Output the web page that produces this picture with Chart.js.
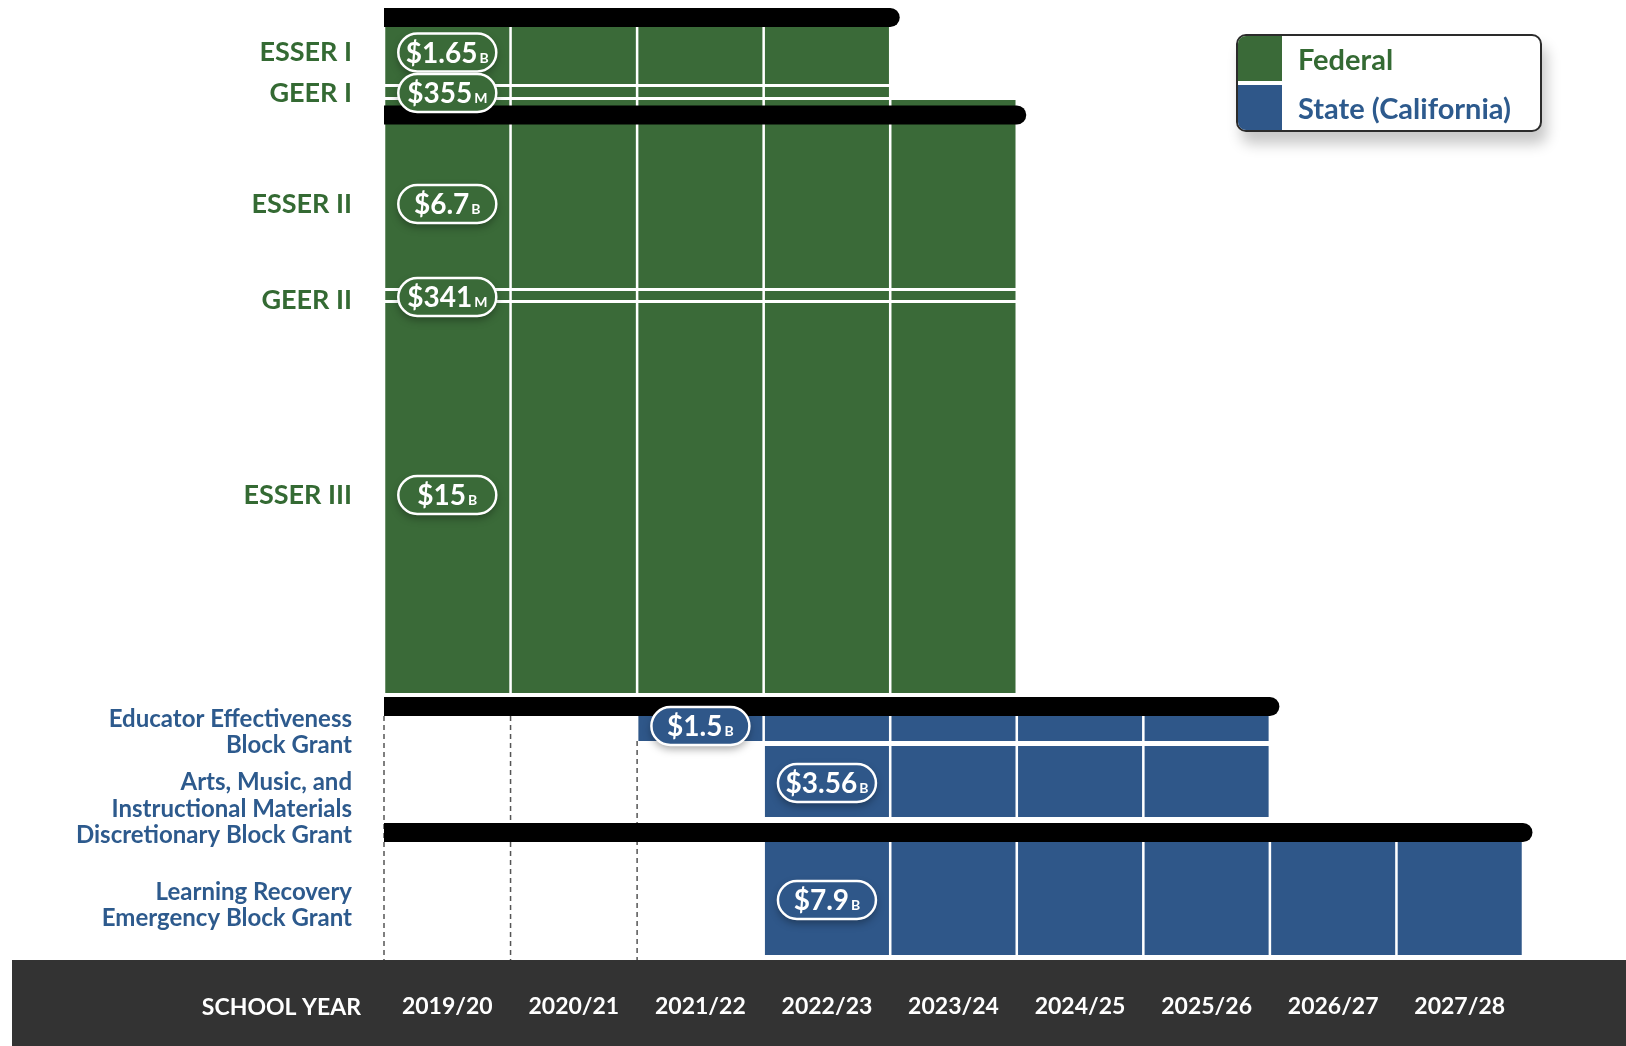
<!DOCTYPE html>
<html lang="en">
<head>
<meta charset="utf-8">
<title>Federal and State Relief Funding by School Year</title>
<script src="https://cdn.jsdelivr.net/npm/chart.js@4.4.1/dist/chart.umd.min.js"></script>
<style>
  html, body { margin: 0; padding: 0; background: #fff; }
  #wrap { position: relative; width: 1626px; height: 1046px; overflow: hidden; }
  #fundingChart { position: absolute; left: 0; top: 0; }
  .legend-box {
    position: absolute; left: 1236px; top: 34px; width: 302px;
    border: 2px solid #2b2b2b; border-radius: 10px; overflow: hidden; background: #fff;
    box-shadow: 5px 12px 14px rgba(0, 0, 0, 0.22);
    font-family: Lato, "Open Sans", sans-serif; font-weight: bold; font-size: 29px;
  }
  .legend-row { display: flex; align-items: center; height: 45px; }
  .legend-row + .legend-row { margin-top: 4px; }
  .legend-swatch { width: 44px; height: 100%; }
  .legend-text { padding-left: 16px; }
</style>
</head>
<body>
<div id="wrap">
  <canvas id="fundingChart" width="1626" height="1046"></canvas>
  <div id="fundingLegend"></div>
</div>
<script>
(function () {
    'use strict';

    // --- data ---
    const schoolYears = ['2019/20', '2020/21', '2021/22', '2022/23', '2023/24', '2024/25', '2025/26', '2026/27', '2027/28'];
    const grantLabels = [
        ['ESSER I'],
        ['GEER I'],
        ['ESSER II'],
        ['GEER II'],
        ['ESSER III'],
        ['Educator Effectiveness', 'Block Grant'],
        ['Arts, Music, and', 'Instructional Materials', 'Discretionary Block Grant'],
        ['Learning Recovery', 'Emergency Block Grant']
    ];
    const grantSource = ['Federal', 'Federal', 'Federal', 'Federal', 'Federal', 'State (California)', 'State (California)', 'State (California)'];
    const firstYear = [0, 0, 0, 0, 0, 2, 3, 3];   // index into schoolYears
    const lastYear = [3, 3, 4, 4, 4, 6, 6, 8];    // inclusive
    const amounts = [1.65, 355, 6.7, 341, 15, 1.5, 3.56, 7.9];
    const amountUnit = ['B', 'M', 'B', 'M', 'B', 'B', 'B', 'B'];
    const sources = ['Federal', 'State (California)'];
    // grants sharing one spending deadline bar
    const deadlineGroups = [[0, 1], [2, 3, 4], [5, 6], [7]];

    // --- layout (vertical units, top to bottom) ---
    const Y_SPAN = 952;
    const ROW_BANDS = [[19, 76], [79, 89], [92, 280], [283, 292], [295, 685], [708, 733], [738, 809], [834, 947]];
    const ROW_ANCHOR = [44.5, 85, 196, 289, 487, 718, 775, 892];
    const LABEL_ANCHOR = [44.5, 85, 196, 292, 487, 724, 801, 897];
    const RULE_AT = [9.5, 107, 698.5, 824.5];

    const FONT = 'Lato, "Open Sans", sans-serif';
    const fill = { 'Federal': '#3a6a38', 'State (California)': '#2f5789' };
    const ink = { 'Federal': '#346a33', 'State (California)': '#2d5a8d' };

    const isState = i => grantSource[i] !== sources[0];

    // --- datasets ---
    const datasets = [];

    deadlineGroups.forEach(function (rows, g) {
        const end = Math.max.apply(null, rows.map(r => lastYear[r] + 1));
        datasets.push({
            type: 'line',
            label: 'deadline ' + (g + 1),
            data: [{ x: 0, y: RULE_AT[g] }, { x: end, y: RULE_AT[g] }],
            borderColor: '#000',
            borderWidth: 19,
            borderCapStyle: 'round',
            pointRadius: 0,
            fill: false,
            order: 0,
            clip: { left: 0, top: false, right: false, bottom: false }
        });
    });

    grantLabels.forEach(function (lines, r) {
        const cells = [];
        for (let i = firstYear[r]; i <= lastYear[r]; i++) {
            cells.push({ x: i + 0.5, y: ROW_BANDS[r] });
        }
        datasets.push({
            type: 'bar',
            label: lines.join(' '),
            data: cells,
            backgroundColor: fill[grantSource[r]],
            grouped: false,
            categoryPercentage: 1,
            barPercentage: 0.98,
            inflateAmount: 0,
            order: 1
        });
    });

    // dashed year dividers in the empty part of the state section
    const stateRows = grantLabels.map((_, i) => i).filter(isState);
    const stateTop = Math.min.apply(null, stateRows.map(r => ROW_BANDS[r][0]));
    const lastStart = Math.max.apply(null, stateRows.map(r => firstYear[r]));
    for (let k = 0; k < lastStart; k++) {
        const covering = stateRows.filter(r => firstYear[r] <= k);
        const top = covering.length ? Math.max.apply(null, covering.map(r => ROW_BANDS[r][1])) : stateTop;
        datasets.push({
            type: 'line',
            label: 'divider ' + k,
            data: [{ x: k, y: top }, { x: k, y: Y_SPAN }],
            borderColor: '#555',
            borderWidth: 1.5,
            borderDash: [5, 4],
            pointRadius: 0,
            fill: false,
            order: 2,
            clip: false
        });
    }

    // --- plugins ---
    const schoolYearBand = {
        id: 'schoolYearBand',
        beforeDraw: function (chart) {
            const xs = chart.scales.x;
            const ctx = chart.ctx;
            ctx.save();
            ctx.fillStyle = '#333333';
            ctx.fillRect(12, xs.top, chart.width - 12, xs.bottom - xs.top);
            ctx.font = 'bold 23px ' + FONT;
            ctx.fillStyle = '#fff';
            ctx.textAlign = 'right';
            ctx.textBaseline = 'middle';
            ctx.fillText('SCHOOL YEAR', chart.chartArea.left - 23, xs.top + 34 + 14);
            ctx.restore();
        }
    };

    const amountBadges = {
        id: 'amountBadges',
        afterDatasetsDraw: function (chart) {
            const ctx = chart.ctx;
            const xs = chart.scales.x;
            const ys = chart.scales.y;
            const w = 98, h = 38;
            amounts.forEach(function (amount, r) {
                const cx = xs.getPixelForValue(firstYear[r] + 0.5);
                const cy = ys.getPixelForValue(ROW_ANCHOR[r]);
                const main = '$' + amount;
                const unit = amountUnit[r];

                ctx.save();
                ctx.beginPath();
                ctx.roundRect(cx - w / 2, cy - h / 2, w, h, h / 2);
                ctx.shadowColor = 'rgba(0, 0, 0, 0.35)';
                ctx.shadowBlur = 9;
                ctx.shadowOffsetY = 4;
                ctx.fillStyle = fill[grantSource[r]];
                ctx.fill();
                ctx.shadowColor = 'transparent';
                ctx.lineWidth = 2.5;
                ctx.strokeStyle = '#fff';
                ctx.stroke();

                ctx.fillStyle = '#fff';
                ctx.textAlign = 'left';
                ctx.textBaseline = 'alphabetic';
                ctx.font = 'bold 28px ' + FONT;
                const mainW = ctx.measureText(main).width;
                ctx.font = 'bold 14px ' + FONT;
                const unitW = ctx.measureText(unit).width;
                const x0 = cx - (mainW + 2 + unitW) / 2;
                const base = cy + 10;
                ctx.font = 'bold 28px ' + FONT;
                ctx.fillText(main, x0, base);
                ctx.font = 'bold 14px ' + FONT;
                ctx.fillText(unit, x0 + mainW + 2, base);
                ctx.restore();
            });
        }
    };

    const htmlLegend = {
        id: 'htmlLegend',
        afterUpdate: function () {
            let html = '<div class="legend-box">';
            sources.forEach(function (s) {
                html += '<div class="legend-row">';
                html += '<div class="legend-swatch" style="background:' + fill[s] + '"></div>';
                html += '<div class="legend-text" style="color:' + ink[s] + '">' + s + '</div>';
                html += '</div>';
            });
            html += '</div>';
            document.getElementById('fundingLegend').innerHTML = html;
        }
    };

    function draw() {
        new Chart(document.getElementById('fundingChart'), {
            type: 'bar',
            data: { datasets: datasets },
            plugins: [schoolYearBand, amountBadges, htmlLegend],
            options: {
                responsive: false,
                animation: false,
                events: [],
                layout: { padding: { top: 8, right: 103, bottom: 0, left: 0 } },
                plugins: {
                    legend: { display: false },
                    tooltip: { enabled: false }
                },
                scales: {
                    x: {
                        type: 'linear',
                        min: 0,
                        max: schoolYears.length,
                        offset: false,
                        grid: { display: false, drawTicks: false },
                        border: { display: false },
                        afterBuildTicks: function (axis) {
                            axis.ticks = schoolYears.map((_, i) => ({ value: i + 0.5 }));
                        },
                        ticks: {
                            autoSkip: false,
                            maxRotation: 0,
                            color: '#fff',
                            padding: 33,
                            font: { family: FONT, size: 23, weight: 'bold' },
                            callback: (v, i) => schoolYears[i]
                        },
                        afterFit: function (axis) {
                            axis.height = 86;
                            axis.paddingLeft = 0;
                            axis.paddingRight = 0;
                        }
                    },
                    y: {
                        type: 'linear',
                        reverse: true,
                        min: 0,
                        max: Y_SPAN,
                        grid: { display: false, drawTicks: false },
                        border: { display: false },
                        afterBuildTicks: function (axis) {
                            axis.ticks = LABEL_ANCHOR.map(v => ({ value: v }));
                        },
                        ticks: {
                            autoSkip: false,
                            padding: 32,
                            color: ctx => ink[grantSource[ctx.index]],
                            font: ctx => isState(ctx.index)
                                ? { family: FONT, size: 24, weight: 'bold', lineHeight: 1.1 }
                                : { family: FONT, size: 27, weight: 'bold' },
                            callback: (v, i) => grantLabels[i]
                        },
                        afterFit: function (axis) {
                            axis.width = 384;
                            axis.paddingTop = 0;
                            axis.paddingBottom = 0;
                        }
                    }
                }
            }
        });
    }

    if (document.fonts && document.fonts.load) {
        Promise.all([
            document.fonts.load('bold 23px Lato'),
            document.fonts.load('bold 14px Lato')
        ]).then(draw, draw);
    } else {
        draw();
    }
})();
</script>
</body>
</html>
